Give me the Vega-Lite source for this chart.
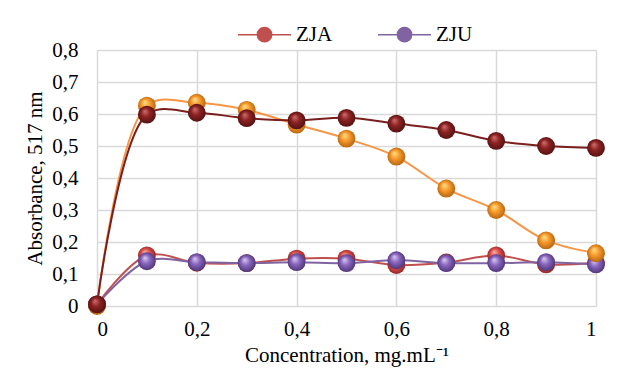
{
  "$schema": "https://vega.github.io/schema/vega-lite/v6.json",
  "width": 499,
  "height": 256,
  "autosize": "none",
  "padding": {"left": 97, "top": 50, "right": 22, "bottom": 65},
  "background": "white",
  "config": {
    "view": {"stroke": null},
    "font": "Liberation Serif",
    "axis": {"labelFont": "Liberation Serif", "titleFont": "Liberation Serif", "labelFontSize": 21, "titleFontSize": 21, "titleFontWeight": "normal", "labelColor": "#000", "titleColor": "#000", "gridColor": "#d9d9d9", "gridWidth": 1.5, "domain": false, "ticks": false},
    "legend": {"labelFont": "Liberation Serif", "labelFontSize": 21}
  },
  "data": {
    "values": [
      {"x": 0, "y": 0.005, "s": "ZJA"}, {"x": 0.1, "y": 0.158, "s": "ZJA"}, {"x": 0.2, "y": 0.135, "s": "ZJA"}, {"x": 0.3, "y": 0.134, "s": "ZJA"}, {"x": 0.4, "y": 0.148, "s": "ZJA"}, {"x": 0.5, "y": 0.148, "s": "ZJA"}, {"x": 0.6, "y": 0.128, "s": "ZJA"}, {"x": 0.7, "y": 0.136, "s": "ZJA"}, {"x": 0.8, "y": 0.158, "s": "ZJA"}, {"x": 0.9, "y": 0.13, "s": "ZJA"}, {"x": 1.0, "y": 0.135, "s": "ZJA"},
      {"x": 0, "y": 0.005, "s": "ZJU"}, {"x": 0.1, "y": 0.14, "s": "ZJU"}, {"x": 0.2, "y": 0.137, "s": "ZJU"}, {"x": 0.3, "y": 0.134, "s": "ZJU"}, {"x": 0.4, "y": 0.137, "s": "ZJU"}, {"x": 0.5, "y": 0.134, "s": "ZJU"}, {"x": 0.6, "y": 0.143, "s": "ZJU"}, {"x": 0.7, "y": 0.134, "s": "ZJU"}, {"x": 0.8, "y": 0.134, "s": "ZJU"}, {"x": 0.9, "y": 0.137, "s": "ZJU"}, {"x": 1.0, "y": 0.13, "s": "ZJU"},
      {"x": 0, "y": 0.0, "s": "Series 3"}, {"x": 0.1, "y": 0.626, "s": "Series 3"}, {"x": 0.2, "y": 0.635, "s": "Series 3"}, {"x": 0.3, "y": 0.613, "s": "Series 3"}, {"x": 0.4, "y": 0.567, "s": "Series 3"}, {"x": 0.5, "y": 0.523, "s": "Series 3"}, {"x": 0.6, "y": 0.467, "s": "Series 3"}, {"x": 0.7, "y": 0.367, "s": "Series 3"}, {"x": 0.8, "y": 0.3, "s": "Series 3"}, {"x": 0.9, "y": 0.205, "s": "Series 3"}, {"x": 1.0, "y": 0.165, "s": "Series 3"},
      {"x": 0, "y": 0.005, "s": "Series 4"}, {"x": 0.1, "y": 0.598, "s": "Series 4"}, {"x": 0.2, "y": 0.604, "s": "Series 4"}, {"x": 0.3, "y": 0.587, "s": "Series 4"}, {"x": 0.4, "y": 0.58, "s": "Series 4"}, {"x": 0.5, "y": 0.588, "s": "Series 4"}, {"x": 0.6, "y": 0.57, "s": "Series 4"}, {"x": 0.7, "y": 0.55, "s": "Series 4"}, {"x": 0.8, "y": 0.516, "s": "Series 4"}, {"x": 0.9, "y": 0.5, "s": "Series 4"}, {"x": 1.0, "y": 0.494, "s": "Series 4"}
    ]
  },
  "encoding": {
    "x": {"field": "x", "type": "quantitative", "scale": {"domain": [0, 1], "nice": false, "zero": false},
      "axis": {"values": [0, 0.2, 0.4, 0.6, 0.8, 1], "labelExpr": "replace(format(datum.value, '.1~f'), '.', ',')", "labelPadding": 12, "title": "Concentration, mg.mL\u207b\u00b9", "titlePadding": 5}},
    "y": {"field": "y", "type": "quantitative", "scale": {"domain": [0, 0.8], "nice": false},
      "axis": {"values": [0, 0.1, 0.2, 0.3, 0.4, 0.5, 0.6, 0.7, 0.8], "labelExpr": "replace(format(datum.value, '.1~f'), '.', ',')", "labelPadding": 19, "title": "Absorbance, 517 nm", "titlePadding": 6}}
  },
  "layer": [
    {
      "mark": {"type": "line", "interpolate": "catmull-rom", "strokeWidth": 2},
      "encoding": {
        "color": {"field": "s", "type": "nominal",
          "scale": {"domain": ["ZJA", "ZJU", "Series 3", "Series 4"], "range": ["#c0504d", "#8064a2", "#f79646", "#7a1e1e"]},
          "legend": {"values": ["ZJA", "ZJU"], "title": null, "orient": "none", "direction": "horizontal", "legendX": 140, "legendY": -43,
            "symbolType": "M-1,0H-0.27M0.27,0H1M0.27,0A0.27,0.27,0,1,1,-0.27,0A0.27,0.27,0,1,1,0.27,0Z",
            "symbolSize": 2809, "symbolStrokeWidth": 1.5, "labelColor": "#000", "labelOffset": 4, "columnPadding": 42,
            "encode": {"symbols": {"update": {"fill": {"scale": "color", "field": "value"}}}}}
        },
        "order": {"field": "x", "type": "quantitative"}
      }
    },
    {
      "transform": [{"filter": "datum.s == 'ZJA'"}],
      "mark": {"type": "point", "shape": "circle", "filled": true, "size": 320, "opacity": 1, "strokeWidth": 0,
        "fill": {"gradient": "radial", "x1": 0.38, "y1": 0.3, "r1": 0, "x2": 0.5, "y2": 0.5, "r2": 0.55, "stops": [{"offset": 0, "color": "#ffb4ac"}, {"offset": 0.45, "color": "#dc504c"}, {"offset": 1, "color": "#8a2222"}]}}
    },
    {
      "transform": [{"filter": "datum.s == 'ZJU'"}],
      "mark": {"type": "point", "shape": "circle", "filled": true, "size": 320, "opacity": 1, "strokeWidth": 0,
        "fill": {"gradient": "radial", "x1": 0.38, "y1": 0.3, "r1": 0, "x2": 0.5, "y2": 0.5, "r2": 0.55, "stops": [{"offset": 0, "color": "#dccdf2"}, {"offset": 0.45, "color": "#8866bf"}, {"offset": 1, "color": "#4a3070"}]}}
    },
    {
      "transform": [{"filter": "datum.s == 'Series 3'"}],
      "mark": {"type": "point", "shape": "circle", "filled": true, "size": 320, "opacity": 1, "strokeWidth": 0,
        "fill": {"gradient": "radial", "x1": 0.38, "y1": 0.3, "r1": 0, "x2": 0.5, "y2": 0.5, "r2": 0.55, "stops": [{"offset": 0, "color": "#ffe28a"}, {"offset": 0.45, "color": "#f79a2c"}, {"offset": 1, "color": "#b0600e"}]}}
    },
    {
      "transform": [{"filter": "datum.s == 'Series 4'"}],
      "mark": {"type": "point", "shape": "circle", "filled": true, "size": 320, "opacity": 1, "strokeWidth": 0,
        "fill": {"gradient": "radial", "x1": 0.38, "y1": 0.3, "r1": 0, "x2": 0.5, "y2": 0.5, "r2": 0.55, "stops": [{"offset": 0, "color": "#d07070"}, {"offset": 0.45, "color": "#8c2222"}, {"offset": 1, "color": "#4e1010"}]}}
    }
  ]
}
